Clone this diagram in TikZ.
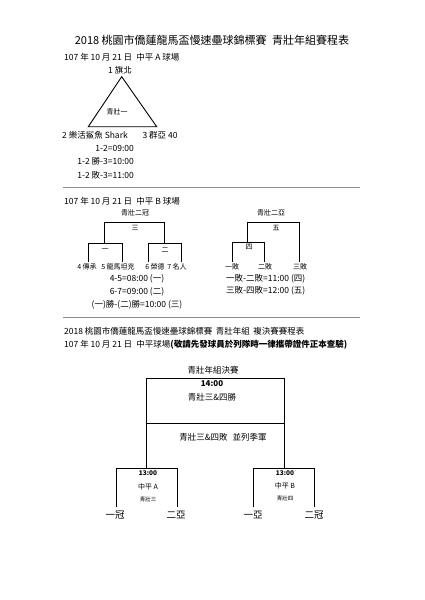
\documentclass[tikz,border=0pt]{standalone}
\usepackage{fontspec}
\newfontfamily\cjk{Noto Sans CJK TC}
\begin{document}
\begin{tikzpicture}[x=1pt,y=-1pt,
  txt/.style={font=\cjk\fontsize{8.5}{10}\selectfont, inner sep=0pt},
  small/.style={font=\cjk\fontsize{7}{8}\selectfont, inner sep=0pt},
  tiny/.style={font=\cjk\fontsize{5.5}{6}\selectfont, inner sep=0pt},
  big/.style={font=\cjk\fontsize{9.5}{11}\selectfont, inner sep=0pt},
  ttl/.style={font=\cjk\fontsize{11}{13}\selectfont, inner sep=0pt},
  brk/.style={line width=0.9pt, black},
  sep/.style={line width=0.8pt, black!45}]
\useasboundingbox (0,0) rectangle (425,600);
\fill[white] (0,0) rectangle (425,600);

% ---------- Title ----------
\node[ttl] (title) at (212,40) {2018 桃園市僑蓮龍馬盃慢速壘球錦標賽\hspace{0.5em}青壯年組賽程表};
\node[txt, anchor=west] (dateA) at (64,57) {107 年 10 月 21 日\hspace{0.5em}中平 A 球場};

% ---------- Triangle ----------
\coordinate (T1) at (121.7,76.7);
\coordinate (T2) at (88.3,126.7);
\coordinate (T3) at (156.7,126.7);
\draw[brk] (T1) -- (T2) -- (T3) -- cycle;
\node[small] (g1) at (117,112) {青壯一};
\node[txt] (team1) at (120,70) {1 旗北};
\node[txt] (team2) at (95,135) {2 樂活鯊魚 Shark};
\node[txt] (team3) at (160,135) {3 群亞 40};
\node[txt, anchor=east] (tA1) at (134,148) {1-2=09:00};
\node[txt, anchor=east] (tA2) at (134,161) {1-2 勝-3=10:00};
\node[txt, anchor=east] (tA3) at (134,175) {1-2 敗-3=11:00};

\coordinate (s1a) at (63,187);
\coordinate (s1b) at (360,187);
\draw[sep] (s1a) -- (s1b);

% ---------- Section B ----------
\node[txt, anchor=west] (dateB) at (64,201) {107 年 10 月 21 日\hspace{0.5em}中平 B 球場};

% champion bracket
\node[small] (champ) at (135,213) {青壯二冠};
\node[small] (m3) at (135,228) {三};
\node[small] (m1) at (105,250) {一};
\node[small] (m2) at (165,250) {二};
\node[small] (t4) at (87,267) {4 傳承};
\node[small] (t5) at (118,267) {5 龍馬坦克};
\node[small] (t6) at (155,267) {6 榮德};
\node[small] (t7) at (177,267) {7 名人};
\coordinate (c1) at (88,262); \coordinate (c2) at (122,262);
\coordinate (c3) at (148,262); \coordinate (c4) at (181,262);
\coordinate (c5) at (104,243); \coordinate (c6) at (164,243);
\draw[brk] (c1) |- (c5 -| c2) -- (c2);
\draw[brk] (c3) |- (c6 -| c4) -- (c4);
\draw[brk] (c5) -- (104,222) -- (164,222) -- (c6);
\node[txt] (tB1) at (137,279) {4-5=08:00 (一)};
\node[txt] (tB2) at (137,292) {6-7=09:00 (二)};
\node[txt] (tB3) at (137,305) {(一)勝-(二)勝=10:00 (三)};

% runner-up bracket
\node[small] (runner) at (271,213) {青壯二亞};
\node[small] (m5) at (276,228) {五};
\node[small] (m4) at (249,247) {四};
\node[small] (l1) at (232,267) {一敗};
\node[small] (l2) at (265,267) {二敗};
\node[small] (l3) at (300,267) {三敗};
\coordinate (d1) at (232,262); \coordinate (d2) at (264,262);
\coordinate (d3) at (299,262); \coordinate (d4) at (247,242);
\draw[brk] (d1) -- (232,242) -- (264,242) -- (d2);
\draw[brk] (d4) -- (247,222) -- (299,222) -- (d3);
\node[txt, anchor=west] (tB4) at (226,279) {一敗-二敗=11:00 (四)};
\node[txt, anchor=west] (tB5) at (226,291) {三敗-四敗=12:00 (五)};

\coordinate (s2a) at (63,317);
\coordinate (s2b) at (360,317);
\draw[sep] (s2a) -- (s2b);

% ---------- Finals ----------
\node[txt, anchor=west] (ttl2) at (64,331) {2018 桃園市僑蓮龍馬盃慢速壘球錦標賽\hspace{0.4em}青壯年組\hspace{0.4em}複決賽賽程表};
\node[txt, anchor=west] (dateC) at (64,345) {107 年 10 月 21 日\hspace{0.5em}中平球場\textbf{(敬請先發球員於列隊時一律攜帶證件正本查驗)}};

\node[txt] (final) at (213,370) {青壯年組決賽};
\coordinate (b1) at (146,378); \coordinate (b2) at (284,378);
\coordinate (b3) at (146,423); \coordinate (b4) at (284,423);
\coordinate (b5) at (146,468); \coordinate (b6) at (284,468);
\draw[brk] (b5) -- (b1) -- (b2) -- (b6);
\draw[brk] (b3) -- (b4);
\node[txt, font=\cjk\bfseries\fontsize{8}{9}\selectfont] (ft) at (212,384) {14:00};
\node[txt] (fw) at (212,397) {青壯三\&四勝};
\node[txt] (fl) at (223,437) {青壯三\&四敗\hspace{0.6em}並列季軍};

% semi A
\coordinate (sa1) at (116,507); \coordinate (sa2) at (177,507);
\draw[brk] (sa1) -- (116,468) -- (177,468) -- (sa2);
\node[tiny, font=\cjk\bfseries\fontsize{6.5}{7}\selectfont] (sat) at (148,473) {13:00};
\node[small] (saf) at (148,487) {中平 A};
\node[tiny] (sag) at (148,499) {青壯三};
\node[big] (saL) at (115,515) {一冠};
\node[big] (saR) at (176,515) {二亞};

% semi B
\coordinate (sb1) at (253,507); \coordinate (sb2) at (314,507);
\draw[brk] (sb1) -- (253,468) -- (314,468) -- (sb2);
\node[tiny, font=\cjk\bfseries\fontsize{6.5}{7}\selectfont] (sbt) at (285,473) {13:00};
\node[small] (sbf) at (285,486) {中平 B};
\node[tiny] (sbg) at (285,498) {青壯四};
\node[big] (sbL) at (253,515) {一亞};
\node[big] (sbR) at (314,515) {二冠};
\end{tikzpicture}
\end{document}
